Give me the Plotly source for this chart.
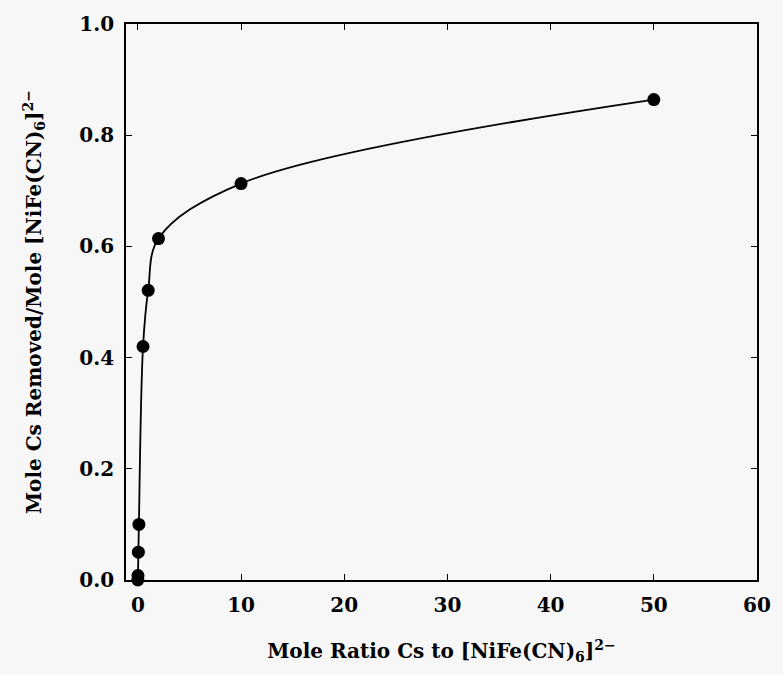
import plotly.graph_objects as go

# Data
mole_ratio = [0, 0.01, 0.05, 0.1, 0.5, 1, 2, 10, 50]
cs_removed = [0.0, 0.008, 0.05, 0.10, 0.42, 0.521, 0.614, 0.713, 0.864]

x_ticks = [0, 10, 20, 30, 40, 50, 60]
y_ticks = [0.0, 0.2, 0.4, 0.6, 0.8, 1.0]
y_tick_text = ["0.0", "0.2", "0.4", "0.6", "0.8", "1.0"]

FONT = "DejaVu Serif"
BG = "#f7f7f7"

fig = go.Figure()
fig.add_trace(go.Scatter(
    x=mole_ratio, y=cs_removed,
    mode="lines+markers",
    line=dict(color="black", width=1.8, shape="spline", smoothing=1.0),
    marker=dict(color="black", size=13),
    showlegend=False,
    cliponaxis=False,
))

axis_common = dict(
    showline=True, linecolor="black", linewidth=1.8, mirror="ticks",
    ticks="inside", ticklen=6, tickwidth=1.2, tickcolor="black",
    showgrid=False, zeroline=False,
    tickfont=dict(family=FONT, size=20, color="black", weight="bold"),
)

fig.update_layout(
    width=783, height=675,
    margin=dict(l=126, r=21, t=21, b=95),
    paper_bgcolor=BG,
    plot_bgcolor=BG,
    font=dict(family=FONT, color="black"),
    xaxis=dict(
        range=[-1.15, 60], tickvals=x_ticks, ticklabelstandoff=6,
        title=dict(text="Mole Ratio Cs to [NiFe(CN)<sub>6</sub>]<sup>2−</sup>",
                   font=dict(family=FONT, size=20, weight="bold"), standoff=28),
        **axis_common,
    ),
    yaxis=dict(
        range=[0, 1.0], tickvals=y_ticks, ticktext=y_tick_text, ticklabelstandoff=6,
        title=dict(text="Mole Cs Removed/Mole [NiFe(CN)<sub>6</sub>]<sup>2−</sup>",
                   font=dict(family=FONT, size=20, weight="bold"), standoff=32),
        **axis_common,
    ),
)

fig.write_html(
    "out.html",
    config={"displayModeBar": False},
    post_script="document.body.style.margin='0';document.body.style.background='%s';" % BG,
)
